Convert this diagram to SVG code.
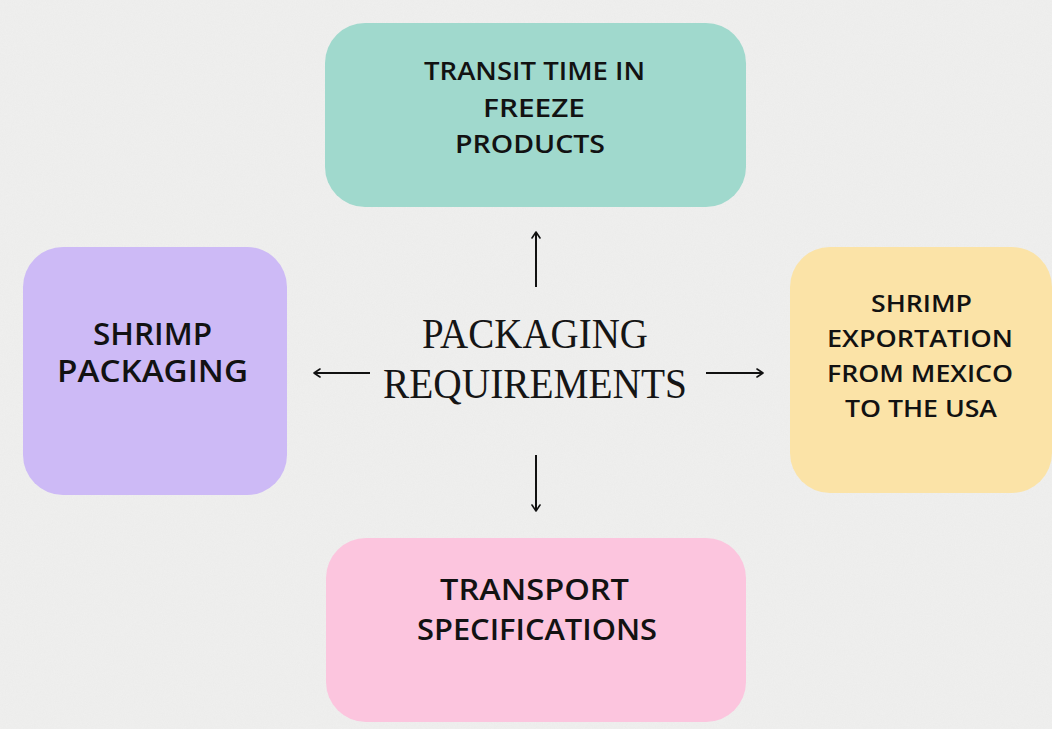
<svg xmlns="http://www.w3.org/2000/svg" width="1052" height="729" viewBox="0 0 1052 729">
  <defs>
    <filter id="paper" x="0" y="0" width="100%" height="100%">
      <feTurbulence type="fractalNoise" baseFrequency="0.9" numOctaves="2" seed="4" result="n"/>
      <feColorMatrix in="n" type="matrix" values="0 0 0 0 0.55  0 0 0 0 0.55  0 0 0 0 0.55  0 0 0 0.35 0"/>
    </filter>
    <marker id="chev" viewBox="0 0 10 10" refX="9" refY="5" markerWidth="10" markerHeight="10" markerUnits="userSpaceOnUse" orient="auto">
      <path d="M3,1 L9,5 L3,9" fill="none" stroke="#111" stroke-width="1.6" stroke-linecap="round" stroke-linejoin="round"/>
    </marker>
  </defs>
  <style>
    .box { stroke: none; }
    .label { font-family: "Open Sans", "Liberation Sans", sans-serif; font-weight: 600; fill: #121212; text-anchor: middle; }
    .title { font-family: "Liberation Serif", "DejaVu Serif", serif; font-weight: normal; fill: #151515; text-anchor: middle; }
    .conn { stroke: #111; stroke-width: 2; fill: none; marker-end: url(#chev); }
  </style>

  <!-- paper background -->
  <rect width="1052" height="729" fill="#f0f0ef"/>
  <rect width="1052" height="729" filter="url(#paper)" opacity="0.3"/>

  <g id="node-transit">
    <rect class="box" x="325" y="23" width="421" height="184" rx="40" fill="#a0d9cd"/>
    <text class="label" font-size="25" x="534.5" y="80" textLength="221" lengthAdjust="spacingAndGlyphs">TRANSIT TIME IN</text>
    <text class="label" font-size="25" x="534" y="117" textLength="102" lengthAdjust="spacingAndGlyphs">FREEZE</text>
    <text class="label" font-size="25" x="530" y="153" textLength="150" lengthAdjust="spacingAndGlyphs">PRODUCTS</text>
  </g>

  <g id="node-packaging">
    <rect class="box" x="23" y="247" width="264" height="248" rx="40" fill="#cdbaf6"/>
    <text class="label" font-size="30" x="152.5" y="345" textLength="119" lengthAdjust="spacingAndGlyphs">SHRIMP</text>
    <text class="label" font-size="30" x="152.5" y="382" textLength="191" lengthAdjust="spacingAndGlyphs">PACKAGING</text>
  </g>

  <g id="node-exportation">
    <rect class="box" x="790" y="247" width="262" height="246" rx="40" fill="#fbe3a7"/>
    <text class="label" font-size="24" x="921.5" y="312" textLength="101" lengthAdjust="spacingAndGlyphs">SHRIMP</text>
    <text class="label" font-size="24" x="920" y="347" textLength="186" lengthAdjust="spacingAndGlyphs">EXPORTATION</text>
    <text class="label" font-size="24" x="920" y="382" textLength="186" lengthAdjust="spacingAndGlyphs">FROM MEXICO</text>
    <text class="label" font-size="24" x="921" y="417" textLength="152" lengthAdjust="spacingAndGlyphs">TO THE USA</text>
  </g>

  <g id="node-transport">
    <rect class="box" x="326" y="538" width="420" height="184" rx="40" fill="#fcc5de"/>
    <text class="label" font-size="29" x="534.5" y="600" textLength="189" lengthAdjust="spacingAndGlyphs">TRANSPORT</text>
    <text class="label" font-size="29" x="537" y="640" textLength="240" lengthAdjust="spacingAndGlyphs">SPECIFICATIONS</text>
  </g>

  <g id="node-center">
    <text class="title" font-size="42" x="535" y="348" textLength="226" lengthAdjust="spacingAndGlyphs">PACKAGING</text>
    <text class="title" font-size="42" x="535" y="398" textLength="304" lengthAdjust="spacingAndGlyphs">REQUIREMENTS</text>
  </g>

  <g id="connectors">
    <line class="conn" x1="536" y1="287" x2="536" y2="232"/>
    <line class="conn" x1="536" y1="455" x2="536" y2="511"/>
    <line class="conn" x1="370" y1="373" x2="314" y2="373"/>
    <line class="conn" x1="706" y1="373" x2="763" y2="373"/>
  </g>
</svg>
